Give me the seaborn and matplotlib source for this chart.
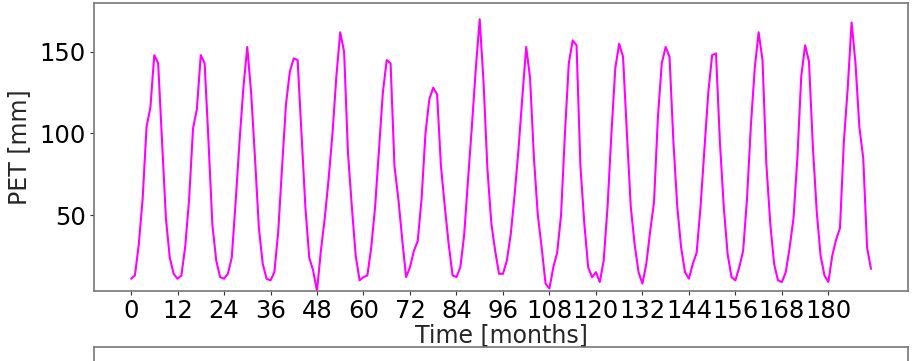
import numpy as np
import pandas as pd
import matplotlib
matplotlib.use("Agg")
import matplotlib.pyplot as plt
import seaborn as sns

# monthly PET values [mm], one list per year (Jan..Dec)
year_00 = [11, 13, 32, 60, 104, 116, 148, 143, 96, 48, 24, 14]
year_01 = [11, 13, 31, 60, 103, 115, 148, 143, 95, 44, 22, 12]
year_02 = [11, 14, 24, 58, 95, 128, 153, 125, 85, 42, 20, 11]
year_03 = [10, 15, 40, 80, 118, 138, 146, 145, 100, 55, 24, 16]
year_04 = [3.5, 28, 48, 72, 100, 135, 162, 150, 88, 55, 25, 10]
year_05 = [12, 13, 30, 55, 90, 125, 145, 143, 80, 60, 35, 12]
year_06 = [18, 28, 34, 60, 100, 121, 128, 124, 80, 55, 32, 13]
year_07 = [12, 18, 38, 72, 105, 140, 170, 131, 78, 45, 28, 14]
year_08 = [14, 22, 38, 62, 90, 122, 153, 134, 85, 50, 30, 8]
year_09 = [5, 18, 27, 50, 100, 143, 157, 154, 80, 45, 18, 12]
year_10 = [15, 9, 22, 55, 100, 140, 155, 147, 100, 55, 32, 15]
year_11 = [8, 20, 40, 58, 110, 143, 153, 147, 95, 55, 30, 15]
year_12 = [11, 20, 27, 55, 90, 125, 148, 149, 95, 55, 26, 12]
year_13 = [10, 18, 28, 60, 105, 140, 162, 145, 81, 45, 20, 10]
year_14 = [9, 15, 30, 48, 85, 135, 154, 144, 92, 52, 25, 13]
year_15 = [9, 25, 35, 42, 95, 128, 168, 143, 104, 85, 30, 17]

years = [year_00, year_01, year_02, year_03, year_04, year_05, year_06, year_07,
         year_08, year_09, year_10, year_11, year_12, year_13, year_14, year_15]
pet = np.concatenate(years)
months = np.arange(len(pet))
xticks = np.arange(0, 181, 12)

df = pd.DataFrame({"month": months, "pet": pet})

sns.set_style("ticks")
plt.rcParams["font.family"] = ["DejaVu Sans"]
plt.rcParams["font.size"] = 17

fig = plt.figure(figsize=(9.13, 3.61), dpi=100)
ax = fig.add_axes([0.103, 0.194, 0.8915, 0.798])

sns.lineplot(data=df, x="month", y="pet", color="#ff00ff", linewidth=1.5, ax=ax)

ax.set_xticks(xticks)
ax.set_ylim(df["pet"].min(), 180)
ax.set_yticks([50, 100, 150])
ax.set_xlabel("Time [months]", fontsize=17, labelpad=0)
ax.set_ylabel("PET [mm]", fontsize=17, labelpad=6)
ax.tick_params(labelsize=17.5, length=3, width=0.8, colors="#333333", pad=3)
ax.tick_params(labelcolor="black")
for sp in ax.spines.values():
    sp.set_color("#777777")
    sp.set_linewidth(1.2)

# top edge of the next panel, cut by the crop
ax2 = fig.add_axes([0.103, -0.5, 0.8915, 0.54])
ax2.set_xticks([])
ax2.set_yticks([])
for sp in ax2.spines.values():
    sp.set_color("#777777")
    sp.set_linewidth(1.2)

fig.savefig("out.png", dpi=100)
